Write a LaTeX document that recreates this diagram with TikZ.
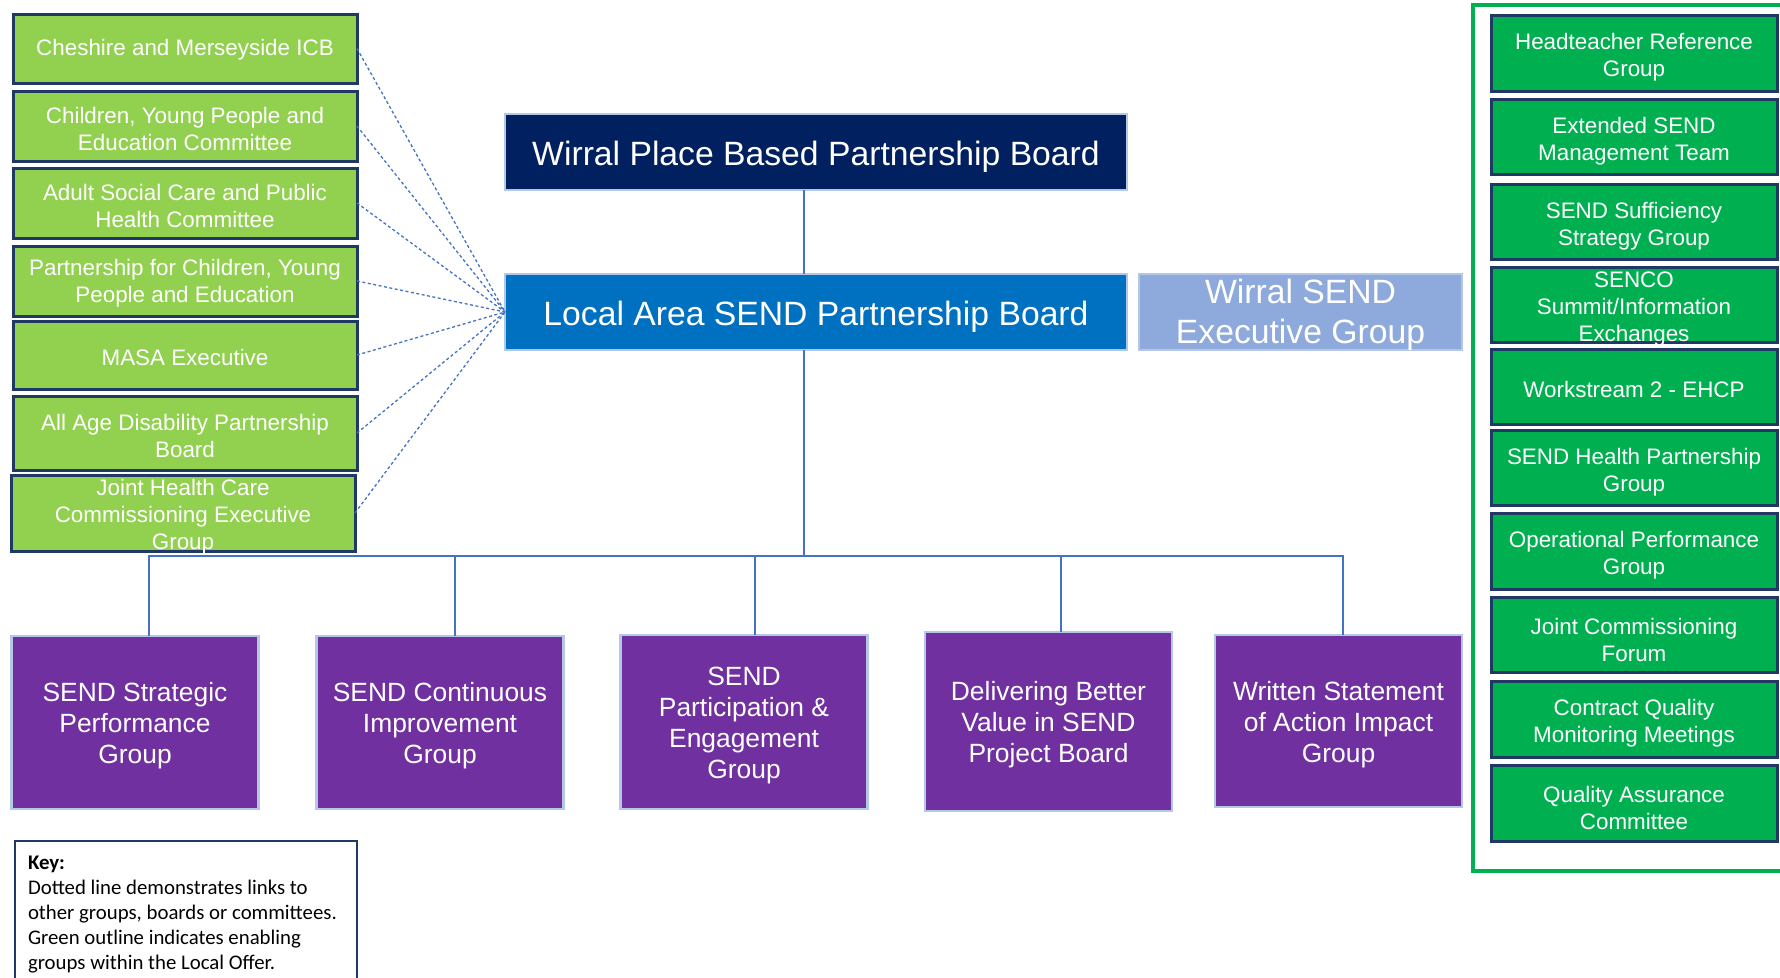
\documentclass[tikz,border=0pt]{standalone}
\usepackage{fontspec}
\setmainfont{Liberation Sans}
\newfontfamily\keyfont{Carlito}

\definecolor{linkgreen}{HTML}{92D050}
\definecolor{enablegreen}{HTML}{00B050}
\definecolor{navyedge}{HTML}{1F3864}
\definecolor{groupviolet}{HTML}{7030A0}
\definecolor{paleedge}{HTML}{B4C7E7}
\definecolor{boardnavy}{HTML}{002060}
\definecolor{boardblue}{HTML}{0070C0}
\definecolor{execblue}{HTML}{8EA9DB}
\definecolor{connblue}{HTML}{4472C4}

\tikzset{
  box/.style={rectangle, inner sep=0pt, outer sep=0pt},
  linkbox/.style={box, fill=linkgreen, draw=navyedge, line width=3pt, minimum width=344pt},
  enabler/.style={box, fill=enablegreen, draw=navyedge, line width=3pt, minimum width=286pt},
  groupbox/.style={box, fill=groupviolet, draw=paleedge, line width=2.5pt, minimum width=247pt},
  board/.style={box, draw=paleedge, line width=2pt, minimum height=76pt},
  caption/.style={inner sep=0pt, outer sep=0pt, align=center, text=white},
  smalltext/.style={caption, font=\fontsize{22.4}{27}\selectfont},
  grouptext/.style={caption, font=\fontsize{26.4}{31}\selectfont},
  boardtext/.style={caption, font=\fontsize{33.7}{40}\selectfont},
  conn/.style={draw=connblue, line width=1.5pt},
  link/.style={draw=connblue, line width=1.3pt, dash pattern=on 3pt off 2.5pt},
  enableframe/.style={draw=enablegreen, line width=4pt},
  keyedge/.style={draw=navyedge, line width=2.5pt},
  keytext/.style={inner sep=0pt, outer sep=0pt, align=left, text=black,
    font=\keyfont\fontsize{20.8}{25}\selectfont}
}

\begin{document}
\begin{tikzpicture}[x=1pt,y=-1pt]
\useasboundingbox (0,0) rectangle (1780,977);
\clip (0,0) rectangle (1780,977);
\fill[white] (0,0) rectangle (1780,977);

% central boards
\node[board, fill=boardnavy, minimum width=622pt] (wpb) at (816,152) {};
\node[boardtext] (wpbt) at ([yshift=-4.5pt]wpb.center) {Wirral Place Based Partnership Board};
\node[board, fill=boardblue, minimum width=622pt] (lasb) at (816,312) {};
\node[boardtext] (lasbt) at ([yshift=-4.5pt]lasb.center) {Local Area SEND Partnership Board};
\node[board, fill=execblue, minimum width=323pt] (exec) at (1300.5,312) {};
\node[boardtext] (exect) at ([yshift=-3pt]exec.center) {Wirral SEND\\Executive Group};

% linked boards and committees
\node[linkbox, minimum height=69pt] (l1) at (185,48.5) {};
\node[linkbox, minimum height=70pt] (l2) at (185,126) {};
\node[linkbox, minimum height=70pt] (l3) at (185,203) {};
\node[linkbox, minimum height=70pt] (l4) at (185,281) {};
\node[linkbox, minimum height=68pt] (l5) at (185,355) {};
\node[linkbox, minimum height=74pt] (l6) at (185,433) {};
\node[linkbox, minimum height=76pt] (l7) at (183,513) {};
\node[smalltext] (l1t) at ([yshift=-1.5pt]l1.center) {Cheshire and Merseyside ICB};
\node[smalltext] (l2t) at ([yshift=-2.5pt]l2.center) {Children, Young People and\\Education Committee};
\node[smalltext] (l3t) at ([yshift=-2.5pt]l3.center) {Adult Social Care and Public\\Health Committee};
\node[smalltext] (l4t) at ([yshift=-2.5pt]l4.center) {Partnership for Children, Young\\People and Education};
\node[smalltext] (l5t) at ([yshift=-2.5pt]l5.center) {MASA Executive};
\node[smalltext] (l6t) at ([yshift=-2.5pt]l6.center) {All Age Disability Partnership\\Board};
\node[smalltext] (l7t) at ([yshift=-4pt]l7.center) {Joint Health Care\\Commissioning Executive\\Group};

% dotted links into the partnership board
\foreach \i in {1,...,7} \draw[link] (l\i.east) -- (lasb.west);

% enabling groups
\draw[enableframe] (1473,5) rectangle (1812,871);
\node[enabler, minimum height=76pt] (e1) at (1634,53) {};
\node[enabler, minimum height=75pt] (e2) at (1634,136.5) {};
\node[enabler, minimum height=75pt] (e3) at (1634,221.5) {};
\node[enabler, minimum height=75pt] (e4) at (1634,304.5) {};
\node[enabler, minimum height=75pt] (e5) at (1634,386.5) {};
\node[enabler, minimum height=75pt] (e6) at (1634,467.5) {};
\node[enabler, minimum height=76pt] (e7) at (1634,551) {};
\node[enabler, minimum height=75pt] (e8) at (1634,635) {};
\node[enabler, minimum height=76pt] (e9) at (1634,719) {};
\node[enabler, minimum height=76pt] (e10) at (1634,803) {};
\node[smalltext] (e1t) at ([yshift=-4.5pt]e1.center) {Headteacher Reference\\Group};
\node[smalltext] (e2t) at ([yshift=-4.5pt]e2.center) {Extended SEND\\Management Team};
\node[smalltext] (e3t) at ([yshift=-4.5pt]e3.center) {SEND Sufficiency\\Strategy Group};
\node[smalltext] (e4t) at ([yshift=-4pt]e4.center) {SENCO\\Summit/Information\\Exchanges};
\node[smalltext] (e5t) at ([yshift=-2.5pt]e5.center) {Workstream 2 - EHCP};
\node[smalltext] (e6t) at ([yshift=-4.5pt]e6.center) {SEND Health Partnership\\Group};
\node[smalltext] (e7t) at ([yshift=-4.5pt]e7.center) {Operational Performance\\Group};
\node[smalltext] (e8t) at ([yshift=-4.5pt]e8.center) {Joint Commissioning\\Forum};
\node[smalltext] (e9t) at ([yshift=-4.5pt]e9.center) {Contract Quality\\Monitoring Meetings};
\node[smalltext] (e10t) at ([yshift=-4.5pt]e10.center) {Quality Assurance\\Committee};

% reporting groups
\node[groupbox, minimum height=173pt] (g1) at (135,722.5) {};
\node[groupbox, minimum height=173pt] (g2) at (440,722.5) {};
\node[groupbox, minimum height=174pt] (g3) at (744,722) {};
\node[groupbox, minimum height=179pt] (g4) at (1048.5,721.5) {};
\node[groupbox, minimum height=172pt] (g5) at (1338.5,721) {};
\node[grouptext] (g1t) at ([yshift=-3.5pt]g1.center) {SEND Strategic\\Performance\\Group};
\node[grouptext] (g2t) at ([yshift=-3.5pt]g2.center) {SEND Continuous\\Improvement\\Group};
\node[grouptext] (g3t) at ([yshift=-3.5pt]g3.center) {SEND\\Participation \&\\Engagement\\Group};
\node[grouptext] (g4t) at ([yshift=-3.5pt]g4.center) {Delivering Better\\Value in SEND\\Project Board};
\node[grouptext] (g5t) at ([yshift=-3.5pt]g5.center) {Written Statement\\of Action Impact\\Group};

% reporting lines
\coordinate (bus) at (804,556);
\coordinate (d1) at ([xshift=14pt]g1.north);
\coordinate (d2) at ([xshift=15pt]g2.north);
\coordinate (d3) at ([xshift=11pt]g3.north);
\coordinate (d4) at ([xshift=12.5pt]g4.north);
\coordinate (d5) at ([xshift=4.5pt]g5.north);
\draw[conn] ([xshift=-12pt]wpb.south) -- ([xshift=-12pt]lasb.north);
\draw[conn] ([xshift=-12pt]lasb.south) -- (bus);
\draw[conn] (d1) |- (d5 |- bus) -- (d5);
\foreach \d in {d2,d3,d4} \draw[conn] (\d) -- (\d |- bus);

% key
\draw[keyedge] (15,841) rectangle (357,1010);
\node[keytext, anchor=north west] (keytxt) at (28,856) {\textbf{Key:}\\Dotted line demonstrates links to\\other groups, boards or committees.\\Green outline indicates enabling\\groups within the Local Offer.};
\end{tikzpicture}
\end{document}
